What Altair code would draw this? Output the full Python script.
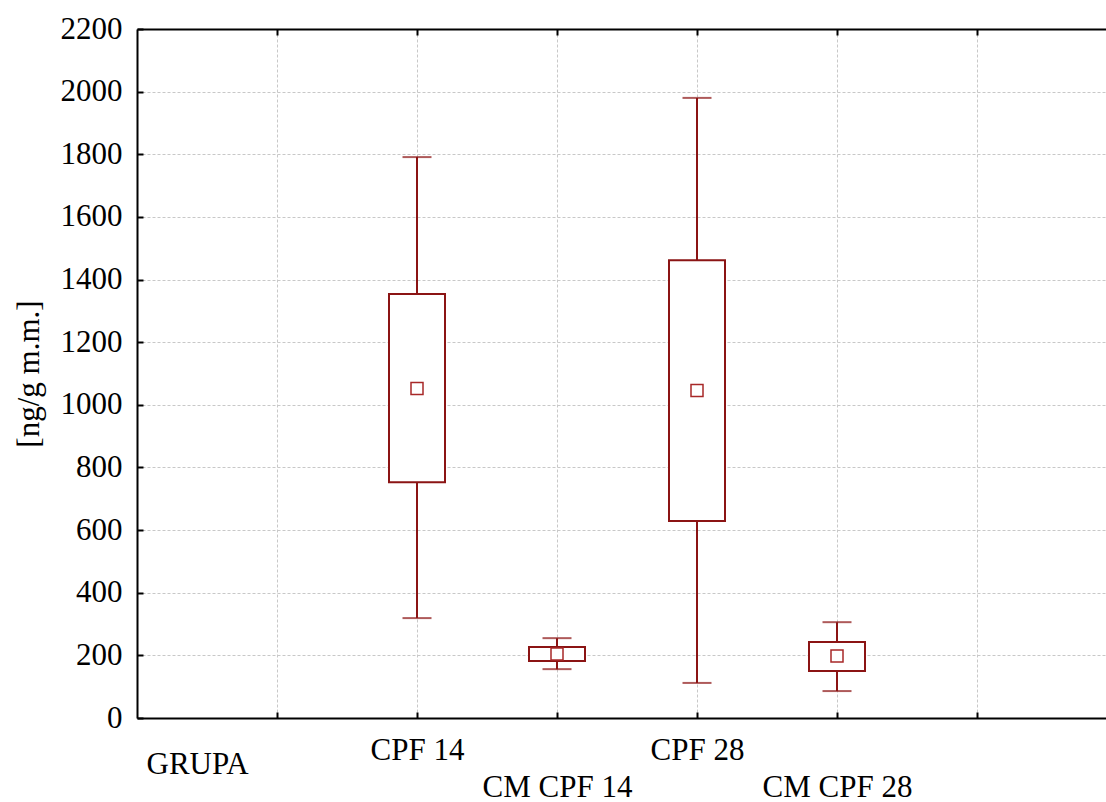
import altair as alt
import pandas as pd

# Groups and box-plot statistics (ng/g wet mass)
groups = ["CPF 14", "CM CPF 14", "CPF 28", "CM CPF 28"]
means = [1052, 204, 1046, 198]
box_lo = [753, 182, 629, 150]
box_hi = [1354, 227, 1462, 243]
whisk_lo = [319, 156, 112, 86]
whisk_hi = [1791, 255, 1980, 306]

# Category slots along the x axis (two empty slots at the ends)
slots = [" "] + groups + ["  "]
lower_row = ["CM CPF 14", "CM CPF 28"]
y_ticks = list(range(0, 2201, 200))

df = pd.DataFrame({
    "grupa": groups,
    "mean": means,
    "q_lo": box_lo,
    "q_hi": box_hi,
    "w_lo": whisk_lo,
    "w_hi": whisk_hi,
})

dark_red = "#8B1414"
mean_red = "#A82828"
font = "Liberation Serif"
grid_col = "#c8c8c8"

label_expr = (
    "indexof([" + ",".join("'" + g + "'" for g in lower_row) + "], datum.value) >= 0"
    " ? ['', datum.label] : datum.label"
)

x_scale = alt.Scale(type="point", domain=slots, range=[0, 980], padding=1)
y_scale = alt.Scale(domain=[0, 2200], nice=False, zero=True)

x_axis = alt.Axis(
    title="GRUPA",
    titleFont=font, titleFontSize=31, titleFontWeight="normal", titleColor="black",
    titleAnchor="start", titleAlign="left", titleBaseline="alphabetic",
    titleX=9, titleY=55,
    labelExpr=label_expr, labelFont=font, labelFontSize=31, labelColor="black",
    labelBaseline="top", labelLineHeight=37, labelPadding=23, labelOverlap=False,
    labelAngle=0,
    domainColor="black", domainWidth=2,
    tickColor="black", tickWidth=2, tickSize={"expr": "-6"},
    grid=True, gridColor=grid_col, gridDash=[3, 2], gridWidth=1,
)

y_axis = alt.Axis(
    title="[ng/g m.m.]",
    titleFont=font, titleFontSize=31, titleFontWeight="normal", titleColor="black",
    titlePadding=15,
    values=y_ticks, format="d",
    labelFont=font, labelFontSize=31, labelColor="black", labelPadding=21,
    domainColor="black", domainWidth=2,
    tickColor="black", tickWidth=2, tickSize={"expr": "-6"},
    grid=True, gridColor=grid_col, gridDash=[3, 2], gridWidth=1,
)

base = alt.Chart(df)

whiskers = base.mark_rule(color=dark_red, strokeWidth=2).encode(
    x=alt.X("grupa:N", scale=x_scale, axis=x_axis),
    y=alt.Y("w_lo:Q", scale=y_scale, axis=y_axis),
    y2="w_hi:Q",
)

boxes = base.mark_bar(size=56, fill="white", stroke=dark_red, strokeWidth=2).encode(
    x=alt.X("grupa:N", scale=x_scale, axis=None),
    y=alt.Y("q_lo:Q", scale=y_scale, axis=y_axis),
    y2="q_hi:Q",
)

cap_lo = base.mark_tick(orient="horizontal", size=29, thickness=2, color=dark_red).encode(
    x=alt.X("grupa:N", scale=x_scale, axis=None),
    y=alt.Y("w_lo:Q", scale=y_scale, axis=y_axis),
)

cap_hi = base.mark_tick(orient="horizontal", size=29, thickness=2, color=dark_red).encode(
    x=alt.X("grupa:N", scale=x_scale, axis=None),
    y=alt.Y("w_hi:Q", scale=y_scale, axis=y_axis),
)

mean_pts = base.mark_point(shape="square", size=144, filled=False,
                           stroke=mean_red, strokeWidth=1.5, opacity=1).encode(
    x=alt.X("grupa:N", scale=x_scale, axis=None),
    y=alt.Y("mean:Q", scale=y_scale, axis=y_axis),
)

# Top frame line with its own inward ticks
top_frame = base.mark_point(opacity=0).encode(
    x=alt.X("grupa:N", scale=x_scale, axis=alt.Axis(
        orient="top", title=None, labels=False, grid=False,
        domainColor="black", domainWidth=2,
        tickColor="black", tickWidth=2, tickSize={"expr": "-6"},
    )),
    y=alt.Y("mean:Q", scale=y_scale, axis=y_axis),
)

chart = alt.layer(whiskers, boxes, cap_lo, cap_hi, mean_pts, top_frame).resolve_axis(
    x="independent"
).properties(
    width=969,
    height=689,
    autosize=alt.AutoSizeParams(type="none"),
    padding={"left": 137, "top": 29, "right": 0, "bottom": 84},
    background="white",
).configure_view(stroke=None)

chart.save("out.html", embed_options={"renderer": "svg", "actions": False})
